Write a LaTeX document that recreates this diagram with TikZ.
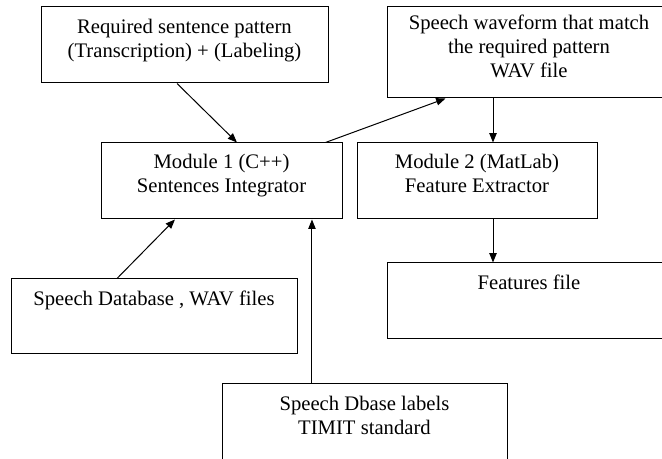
\documentclass[tikz,border=0pt]{standalone}
\usepackage{fontspec}
\setmainfont{Liberation Serif}
\usetikzlibrary{arrows.meta}

\tikzset{
  blockbox/.style={draw, line width=0.75pt, inner sep=0pt},
  blocktext/.style={anchor=north, align=center, inner sep=0pt, font=\fontsize{15.5}{18}\selectfont},
  flow/.style={-{Triangle[length=7pt,width=5.5pt]}, line width=0.75pt},
}

\begin{document}
\begin{tikzpicture}[x=0.75pt, y=-0.75pt]
		\useasboundingbox (0,0) rectangle (662,459);

		% boxes
		\node[blockbox, minimum width=287*0.75pt, minimum height=76*0.75pt] (req) at (184.5,45) {};
		\node[blockbox, minimum width=241*0.75pt, minimum height=76*0.75pt] (mod1) at (221.5,181) {};
		\node[blockbox, minimum width=284*0.75pt, minimum height=91*0.75pt] (wave) at (529,52.5) {};
		\node[blockbox, minimum width=240*0.75pt, minimum height=76*0.75pt] (mod2) at (477,181) {};
		\node[blockbox, minimum width=284*0.75pt, minimum height=76*0.75pt] (feat) at (529,301) {};
		\node[blockbox, minimum width=286*0.75pt, minimum height=75*0.75pt] (dbase) at (154,316.5) {};
		\node[blockbox, minimum width=285*0.75pt, minimum height=86*0.75pt] (labels) at (364.5,427) {};

		% texts
		\node[blocktext] (reqtext) at ([yshift=-9pt]req.north) {Required sentence pattern\\(Transcription) + (Labeling)};
		\node[blocktext] (mod1text) at ([yshift=-8.5pt]mod1.north) {Module 1 (C++)\\Sentences Integrator};
		\node[blocktext] (wavetext) at ([yshift=-6pt]wave.north) {Speech waveform that match\\the required pattern\\WAV file};
		\node[blocktext] (mod2text) at ([yshift=-8.5pt]mod2.north) {Module 2 (MatLab)\\Feature Extractor};
		\node[blocktext] (feattext) at ([yshift=-9pt]feat.north) {Features file};
		\node[blocktext] (dbasetext) at ([yshift=-9.5pt]dbase.north) {Speech Database , WAV files};
		\node[blocktext] (labelstext) at ([yshift=-9.5pt]labels.north) {Speech Dbase labels\\TIMIT standard};

		% connectors
		\draw[flow] ([xshift=-5.6pt]req.south) -- ([xshift=11.6pt]mod1.north);
		\draw[flow] ([xshift=-12.75pt]mod1.north east) -- ([xshift=44.25pt]wave.south west);
		\draw[flow] ([xshift=12pt]mod2.north |- wave.south) -- ([xshift=12pt]mod2.north);
		\draw[flow] ([xshift=12pt]mod2.south) -- ([xshift=12pt]mod2.south |- feat.north);
		\draw[flow] ([xshift=-27.75pt]dbase.north) -- ([xshift=-34.9pt]mod1.south);
		\draw[flow] ([xshift=-39.4pt]labels.north) -- ([xshift=-39.4pt]labels.north |- mod1.south);
	\end{tikzpicture}
\end{document}
